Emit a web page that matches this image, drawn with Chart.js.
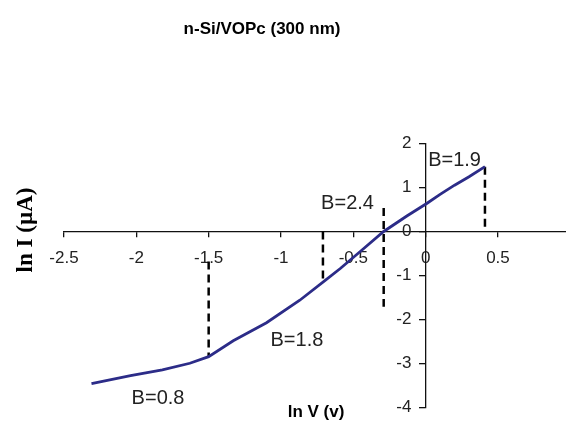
<!DOCTYPE html>
<html>
<head>
<meta charset="utf-8">
<script src="https://cdn.jsdelivr.net/npm/chart.js@4.4.1/dist/chart.umd.min.js"></script>
<style>
    html, body { margin: 0; padding: 0; background: #fff; overflow: hidden; }
    #wrap { width: 600px; height: 421px; }
</style>
</head>
<body>
<div id="wrap"><canvas id="ivChart" width="600" height="421"></canvas></div>
<script>
// ln I vs ln V for n-Si/VOPc (300 nm)
const lnV = [-2.31, -2.04, -1.82, -1.63, -1.50, -1.33, -1.10, -0.87, -0.69, -0.59, -0.45, -0.29, -0.13, 0.01, 0.10, 0.20, 0.30, 0.41];
const lnI = [-3.45, -3.27, -3.14, -2.99, -2.84, -2.48, -2.07, -1.56, -1.10, -0.84, -0.45, 0.00, 0.35, 0.64, 0.84, 1.05, 1.24, 1.47];

// dashed region markers
const markV = [-1.50, -0.71, -0.29, 0.41];
const markTop = [-0.68, 0.00, 0.53, 1.47];
const markBottom = [-2.84, -1.10, -1.71, 0.00];

// slope labels
const slopeText = ['B=0.8', 'B=1.8', 'B=2.4', 'B=1.9'];
const slopeV = [-1.85, -0.89, -0.54, 0.20];
const slopeI = [-3.80, -2.48, 0.64, 1.60];

const xTicks = [-2.5, -2, -1.5, -1, -0.5, 0, 0.5, 1];
const yTicks = [-4, -3, -2, -1, 0, 1, 2];

const TEXT = '#222';

document.addEventListener('DOMContentLoaded', function () {
    const datasets = [{
        data: lnV.map((v, i) => ({ x: v, y: lnI[i] })),
        borderColor: '#2c2c88',
        borderWidth: 2.8,
        pointRadius: 0,
        tension: 0
    }];

    markV.forEach((v, i) => {
        datasets.push({
            data: [{ x: v, y: markTop[i] }, { x: v, y: markBottom[i] }],
            borderColor: '#000',
            borderWidth: 2.5,
            borderDash: [8, 5],
            pointRadius: 0
        });
    });

    const textPlugin = {
        id: 'textPlugin',
        afterDraw(chart) {
            const ctx = chart.ctx;
            const xs = chart.scales.x;
            const ys = chart.scales.y;
            ctx.save();
            ctx.fillStyle = TEXT;
            ctx.textAlign = 'center';
            ctx.textBaseline = 'middle';

            ctx.font = '20px "Liberation Sans", Arial, sans-serif';
            slopeText.forEach((t, i) => {
                ctx.fillText(t, xs.getPixelForValue(slopeV[i]), ys.getPixelForValue(slopeI[i]));
            });

            ctx.fillStyle = '#000';
            ctx.font = 'bold 17px "Liberation Sans", Arial, sans-serif';
            ctx.fillText('n-Si/VOPc (300 nm)', 262, 29);
            ctx.fillText('ln V (v)', 316, 412);

            ctx.translate(26, 230);
            ctx.rotate(-Math.PI / 2);
            ctx.font = 'bold 23px "Liberation Serif", "Times New Roman", serif';
            ctx.fillText('ln I (\u00b5A)', 0, 0);
            ctx.restore();
        }
    };

    new Chart(document.getElementById('ivChart'), {
        type: 'line',
        data: { datasets: datasets },
        options: {
            responsive: false,
            animation: false,
            devicePixelRatio: 1,
            layout: { padding: { left: 64, right: 29.7, top: 143.3, bottom: 5 } },
            plugins: {
                legend: { display: false },
                tooltip: { enabled: false }
            },
            scales: {
                x: {
                    type: 'linear',
                    position: { y: 0 },
                    min: -2.5,
                    max: 1,
                    afterBuildTicks: function (axis) {
                        axis.ticks = xTicks.map(v => ({ value: v }));
                    },
                    border: { display: true, color: '#111', width: 1.3 },
                    grid: { drawOnChartArea: false, drawTicks: true, tickLength: 5, color: '#111', lineWidth: 1.3 },
                    ticks: {
                        color: TEXT,
                        padding: 12,
                        maxRotation: 0,
                        autoSkip: false,
                        callback: function (value) { return String(value); },
                        font: { family: '"Liberation Sans", Arial, sans-serif', size: 17 }
                    }
                },
                y: {
                    type: 'linear',
                    position: { x: 0 },
                    min: -4,
                    max: 2,
                    afterBuildTicks: function (axis) {
                        axis.ticks = yTicks.map(v => ({ value: v }));
                    },
                    border: { display: true, color: '#111', width: 1.3 },
                    grid: { drawOnChartArea: false, drawTicks: true, tickLength: 6, color: '#111', lineWidth: 1.3 },
                    ticks: {
                        color: TEXT,
                        autoSkip: false,
                        // positioned axis puts labels right on the line, so pad with spaces
                        callback: function (value) { return String(value) + '   '; },
                        font: { family: '"Liberation Sans", Arial, sans-serif', size: 17 }
                    }
                }
            }
        },
        plugins: [textPlugin]
    });
});
</script>
</body>
</html>
